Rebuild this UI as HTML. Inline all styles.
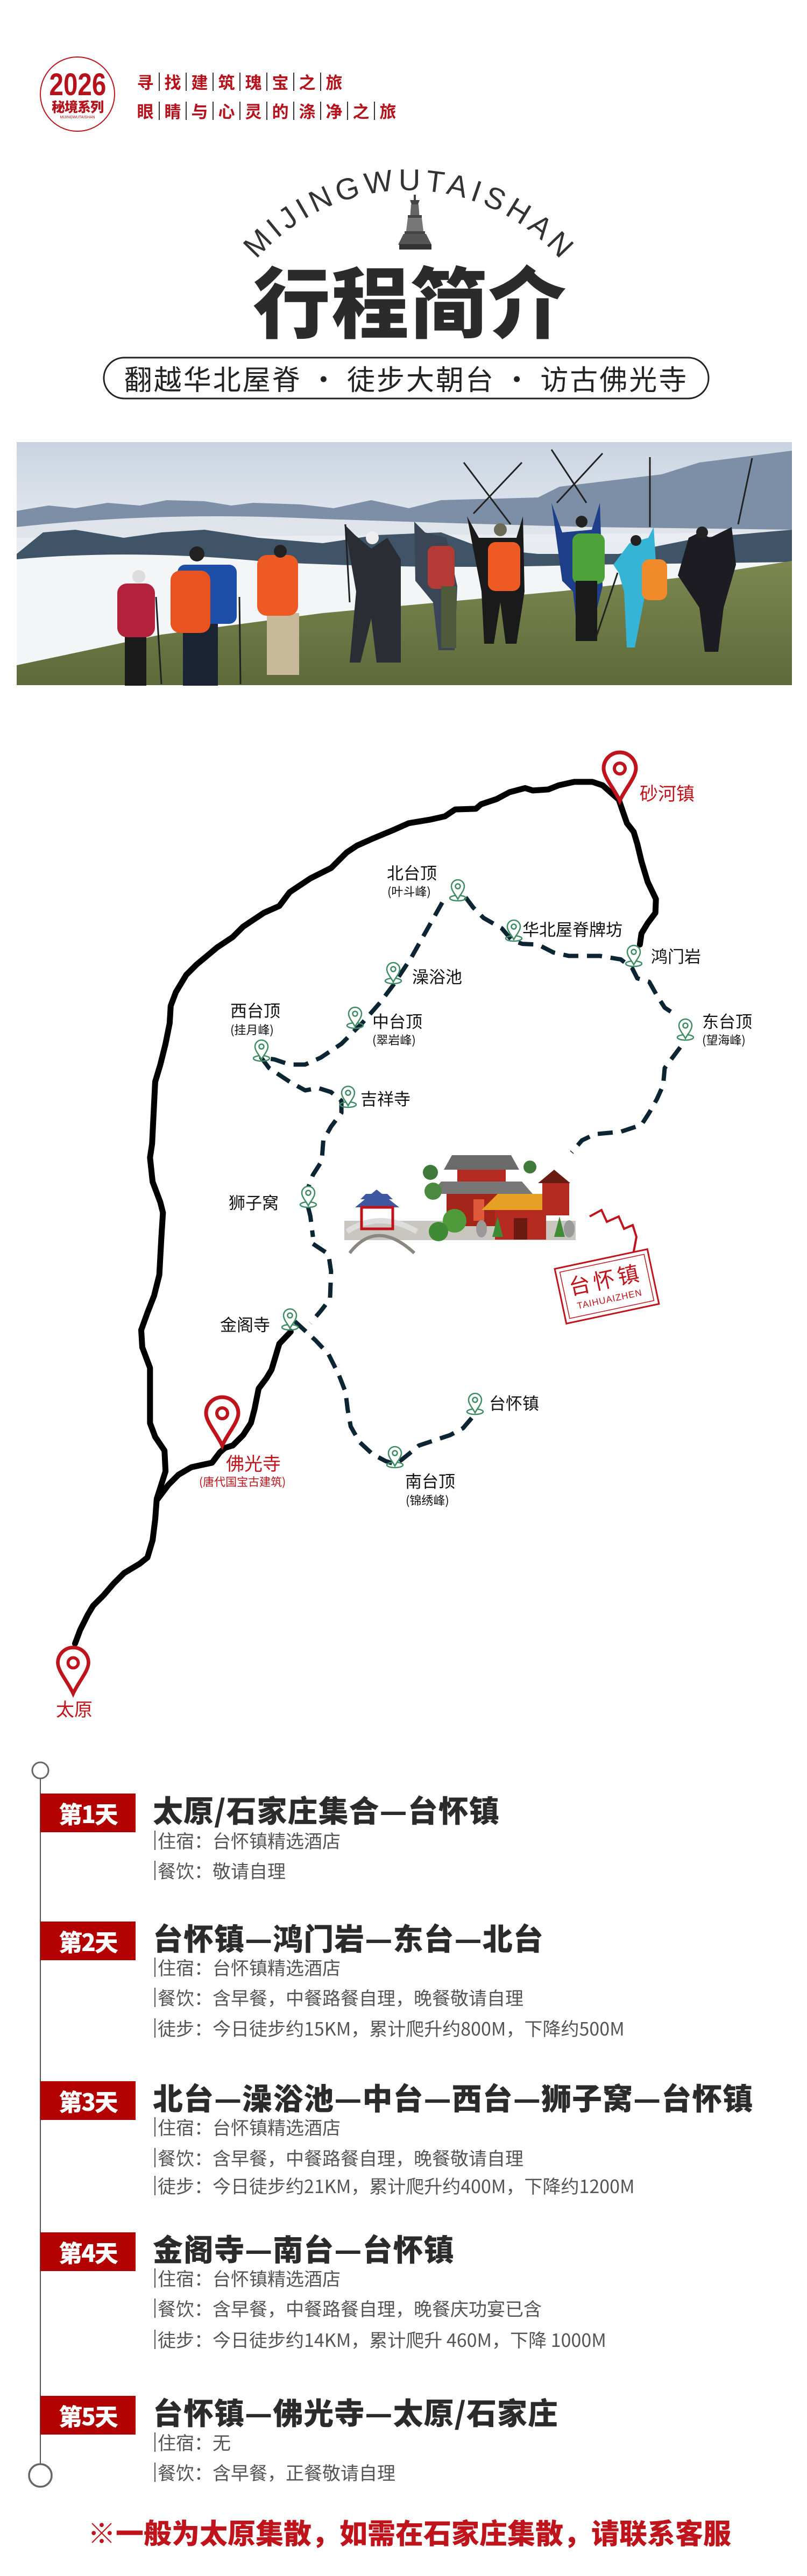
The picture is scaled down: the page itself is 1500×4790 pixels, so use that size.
<!DOCTYPE html>
<html><head><meta charset="utf-8">
<style>
*{margin:0;padding:0;box-sizing:border-box}
body{width:1500px;height:4790px;background:#fff;position:relative;overflow:hidden;font-family:"Liberation Sans","Noto Sans CJK SC",sans-serif}
.a{position:absolute;white-space:nowrap}
.cjk{font-family:"Noto Sans CJK SC","WenQuanYi Zen Hei",sans-serif}
.hl span{display:inline-block;width:50px;text-align:center;border-left:2px solid #333;line-height:34px}
.hl span:first-child{border-left:none}
.lbl{font-family:"Noto Sans CJK SC",sans-serif;color:#111;font-size:31px;line-height:1}
.sub{font-family:"Noto Sans CJK SC",sans-serif;color:#111;font-size:22px;line-height:1}
.badge{position:absolute;left:75px;width:177px;height:72px;background:#b30000;color:#fff;font-family:"Noto Sans CJK SC",sans-serif;font-weight:900;font-size:44px;line-height:72px;text-align:center;letter-spacing:-2px}
.tt{position:absolute;left:284px;font-family:"Noto Sans CJK SC",sans-serif;font-weight:900;font-size:56px;line-height:1;color:#2b2b2b;white-space:nowrap;letter-spacing:1px}
.ln{position:absolute;left:287px;font-family:"Noto Sans CJK SC",sans-serif;font-size:34px;line-height:36px;color:#555;white-space:nowrap;border-left:2px solid #555;padding-left:4px}
</style></head><body>

<svg class="a" style="left:0;top:0" width="1500" height="4790" viewBox="0 0 1500 4790">
<defs>
<g id="gm">
 <ellipse cx="0" cy="14" rx="15" ry="5" fill="none" stroke="#3d8c63" stroke-width="2.5"/>
 <path d="M0,16 C-4,8 -12,0 -12,-8 A12,12 0 1 1 12,-8 C12,0 4,8 0,16Z" fill="#fff" stroke="#3d8c63" stroke-width="2.5"/>
 <circle cx="0" cy="-8" r="4.5" fill="none" stroke="#3d8c63" stroke-width="2.5"/>
</g>
<g id="rp">
 <path d="M0,0 C-10,-22 -30,-44 -30,-60 A30,30 0 1 1 30,-60 C30,-44 10,-22 0,0Z" fill="#fff" stroke="#c0141c" stroke-width="7"/>
 <circle cx="0" cy="-60" r="10" fill="none" stroke="#c0141c" stroke-width="6"/>
</g>
<linearGradient id="sky" x1="0" y1="0" x2="0" y2="1">
 <stop offset="0" stop-color="#c9d3e0"/><stop offset="0.4" stop-color="#e6ebf1"/><stop offset="1" stop-color="#f2f4f6"/>
</linearGradient>
<linearGradient id="grass" x1="0" y1="0" x2="0" y2="1">
 <stop offset="0" stop-color="#7d8750"/><stop offset="1" stop-color="#5d6a3a"/>
</linearGradient>
</defs>

<!-- logo -->
<circle cx="144" cy="175" r="69" fill="none" stroke="#c0141c" stroke-width="2"/>

<!-- pagoda -->
<g fill="#444">
 <rect x="769" y="362" width="4" height="10"/>
 <path d="M762,372 h18 l-3,8 h-12z"/>
 <path d="M764,380 h14 l2,28 h-18z" fill="#666"/>
 <rect x="758" y="400" width="26" height="5"/>
 <path d="M758,405 h26 l4,32 h-34z" fill="#777"/>
 <rect x="752" y="430" width="38" height="5"/>
 <path d="M750,435 h42 l10,20 h-62z" fill="#555"/>
 <rect x="742" y="454" width="60" height="10" fill="#333"/>
</g>
<!-- arc text -->
<path id="arc" d="M488,470 A374,374 0 0 1 1030,470" fill="none"/>
<text font-family="Liberation Sans,sans-serif" font-size="56" fill="#333" font-weight="normal"><textPath href="#arc" startOffset="50%" text-anchor="middle" textLength="640" lengthAdjust="spacing">MIJINGWUTAISHAN</textPath></text>

<!-- pill -->
<rect x="193" y="665" width="1124" height="76" rx="38" fill="none" stroke="#222" stroke-width="3"/>

<!-- photo -->
<g>
 <rect x="31" y="822" width="1441" height="452" fill="url(#sky)"/>
 <path d="M31,950 L90,940 140,945 200,935 260,940 310,930 380,932 430,940 470,935 560,938 620,945 690,930 760,945 820,930 1000,925 1040,905 1230,882 1300,860 1472,838 L1472,990 L31,1000Z" fill="#7d8ea7"/>
 <path d="M31,980 Q300,950 600,965 Q900,975 1100,980 L1472,985 L1472,1010 L31,1010Z" fill="#e9edf2" opacity="0.9"/>
 <path d="M31,1030 L80,990 140,985 230,1000 300,990 380,985 480,1000 600,1010 700,995 820,990 900,1020 1000,1030 1150,1030 1300,1000 1472,985 L1472,1060 L31,1060Z" fill="#3f5466"/>
 <path d="M31,1040 Q250,1020 500,1045 Q800,1060 1100,1050 L1472,1045 L1472,1090 L1046,1099 L31,1235Z" fill="#f3f5f7"/>
 <path d="M31,1237 L300,1180 L600,1140 L1046,1099 L1300,1070 L1472,1043 L1472,1274 L31,1274Z" fill="url(#grass)"/>
 <!-- hikers -->
 <g>
  <rect x="232" y="1180" width="40" height="95" fill="#1a1a1a"/>
  <rect x="218" y="1085" width="70" height="100" rx="18" fill="#b3213a"/>
  <circle cx="258" cy="1072" r="12" fill="#ddd"/>
  <rect x="340" y="1150" width="65" height="125" fill="#1b2433"/>
  <rect x="330" y="1050" width="110" height="110" rx="14" fill="#1e4fa8"/>
  <rect x="317" y="1061" width="74" height="116" rx="18" fill="#e8531f"/>
  <circle cx="366" cy="1030" r="14" fill="#222"/>
  <rect x="496" y="1140" width="60" height="115" fill="#c7b89a"/>
  <rect x="478" y="1032" width="76" height="113" rx="18" fill="#ee5a23"/>
  <circle cx="521" cy="1025" r="12" fill="#222"/>
  <path d="M660,995 L690,1020 L720,1000 L745,1040 L745,1232 L700,1232 L690,1150 L670,1232 L650,1232 L662,1100 L640,975 Z" fill="#2a2d33"/>
  <circle cx="692" cy="1000" r="12" fill="#eee"/>
  <path d="M770,970 L790,990 L830,1000 L850,1090 L845,1209 L815,1209 L805,1120 L772,1080 Z" fill="#3a4656"/>
  <rect x="795" y="1015" width="50" height="80" rx="12" fill="#b33a35"/>
  <rect x="820" y="1090" width="28" height="115" fill="#4f5a3a"/>
  <path d="M868,960 L890,1000 L960,1000 L972,960 L975,1100 L960,1197 L940,1197 L930,1120 L918,1197 L900,1197 L895,1100 Z" fill="#1a1a1a"/>
  <rect x="907" y="1008" width="60" height="91" rx="14" fill="#ee5a23"/>
  <circle cx="930" cy="985" r="12" fill="#6b6b55"/>
  <path d="M1025,935 L1045,990 L1100,985 L1115,935 L1120,1090 L1095,1192 L1075,1192 L1065,1100 L1045,1080 Z" fill="#1d3f8a"/>
  <rect x="1064" y="992" width="60" height="94" rx="14" fill="#4fa23a"/>
  <rect x="1070" y="1080" width="40" height="112" fill="#1a1a1a"/>
  <circle cx="1081" cy="970" r="11" fill="#222"/>
  <path d="M1140,1050 L1170,1010 L1205,1000 L1215,980 L1220,1060 L1200,1100 L1180,1204 L1165,1204 L1160,1100 L1150,1065 Z" fill="#36b4d6"/>
  <rect x="1193" y="1040" width="47" height="76" rx="14" fill="#f08a2a"/>
  <circle cx="1182" cy="1005" r="10" fill="#222"/>
  <path d="M1260,1070 L1280,1000 L1300,990 L1320,1000 L1360,980 L1368,1050 L1345,1130 L1335,1212 L1310,1212 L1300,1130 Z" fill="#1c1c22"/>
  <circle cx="1305" cy="990" r="11" fill="#222"/>
 </g>
 <g stroke="#222" stroke-width="3">
  <line x1="862" y1="860" x2="949" y2="975"/><line x1="970" y1="860" x2="880" y2="955"/>
  <line x1="1025" y1="836" x2="1090" y2="935"/><line x1="1120" y1="843" x2="1035" y2="935"/>
  <line x1="1208" y1="850" x2="1208" y2="980"/><line x1="1398" y1="852" x2="1372" y2="975"/>
  <line x1="445" y1="1110" x2="447" y2="1272"/><line x1="290" y1="1110" x2="300" y2="1272"/>
  <line x1="642" y1="975" x2="650" y2="1120"/><line x1="1148" y1="1065" x2="1108" y2="1185"/>
 </g>
</g>

<!-- MAP solid line -->
<g transform="translate(0,1300) scale(0.9615,0.641)" fill="none" stroke="#000" stroke-width="11" stroke-linejoin="round" stroke-linecap="round">
 <path vector-effect="non-scaling-stroke" d="M1195,290 L1165,250 1145,240 1110,240 1080,250 1060,262 1030,265 1015,258 985,270 960,290 930,305 920,318 880,320 860,340 830,350 790,360 760,380 720,405 690,425 670,445 640,490 600,520 560,560 540,600 510,620 470,660 450,690 420,720 400,745 380,770 360,800 340,850 330,890 328,940 320,1000 310,1060 300,1110 298,1170 296,1230 294,1290 290,1330 295,1400 310,1460 315,1490 312,1560"/>
 <path vector-effect="non-scaling-stroke" d="M1197,295 L1205,330 1212,360 1225,385 1232,420 1240,470 1252,530 1268,580 1267,620 1252,650 1240,680 1237,712"/>
</g>
<g transform="translate(0,2300) scale(0.9615,0.641)" fill="none" stroke="#000" stroke-width="11" stroke-linejoin="round" stroke-linecap="round">
 <path vector-effect="non-scaling-stroke" d="M312,0 L308,110 298,170 285,220 273,270 275,320 290,380 290,460 290,540 300,580 318,620 320,680 303,760 300,820 295,880 285,930 270,948 240,975 220,1005 200,1040 180,1070 170,1095 155,1140 145,1180"/>
 <path vector-effect="non-scaling-stroke" d="M305,760 L325,720 345,690 370,668 410,655 425,625 435,612 450,605 470,575 485,540 492,500 500,440 515,410 525,385 540,310 562,275"/>
</g>
<!-- MAP dashed -->
<g fill="none" stroke="#0d2433" stroke-width="8" stroke-dasharray="28 16" stroke-linejoin="round">
 <g transform="translate(0,1300) scale(0.9615,0.641)">
  <path vector-effect="non-scaling-stroke" d="M855,590 L825,670 795,750 760,830 735,880 700,940 660,1000 620,1040 590,1060 560,1060 530,1045 505,1040 520,1070 560,1110 590,1135 615,1128 640,1140 660,1165 660,1200 640,1240 625,1280 622,1340 605,1380 590,1440 600,1500 605,1560"/>
  <path vector-effect="non-scaling-stroke" d="M900,575 L915,605 935,635 970,665 990,700 1010,710 1040,712 1070,735 1100,745 1160,745 1200,755 1222,780 1232,810 1255,820 1270,860 1285,895 1305,915"/>
  <path vector-effect="non-scaling-stroke" d="M1315,1010 L1300,1040 1285,1070 1282,1120 1270,1160 1255,1200 1240,1235 1200,1255 1150,1262 1125,1280 1105,1315"/>
 </g>
 <g transform="translate(0,2300) scale(0.9615,0.641)">
  <path vector-effect="non-scaling-stroke" d="M605,20 L635,50 640,100 638,180 620,215 600,250"/>
  <path vector-effect="non-scaling-stroke" d="M570,245 L610,300 635,340 655,400 668,450 672,500 678,550 695,595 720,630 745,650 765,660 790,630 810,605 840,590 870,575 895,555 915,520"/>
 </g>
</g>

<!-- green markers -->
<use href="#gm" x="851" y="1656"/>
<use href="#gm" x="955" y="1731"/>
<use href="#gm" x="1178" y="1778"/>
<use href="#gm" x="731" y="1810"/>
<use href="#gm" x="486" y="1954"/>
<use href="#gm" x="660" y="1893"/>
<use href="#gm" x="1274" y="1915"/>
<use href="#gm" x="647" y="2040"/>
<use href="#gm" x="573" y="2226"/>
<use href="#gm" x="539" y="2454"/>
<use href="#gm" x="883" y="2611"/>
<use href="#gm" x="734" y="2710"/>

<!-- red pins -->
<use href="#rp" x="1152" y="1489"/>
<use href="#rp" x="413" y="2688"/>
<g transform="translate(136,3149) scale(0.95)"><use href="#rp"/></g>

<!-- temple illustration -->
<g>
 <rect x="640" y="2270" width="430" height="36" fill="#c9c6c0"/>
 <path d="M650,2330 Q700,2265 770,2330" fill="none" stroke="#8a8680" stroke-width="6"/>
 <path d="M645,2290 Q705,2250 775,2290" fill="none" stroke="#ddd" stroke-width="10"/>
 <path d="M670,2230 L680,2220 L720,2220 L730,2230Z M660,2245 L700,2212 L742,2245Z" fill="#3d57a0"/>
 <rect x="672" y="2245" width="58" height="40" fill="none" stroke="#c0141c" stroke-width="5"/>
 <path d="M840,2148 L950,2148 L965,2175 L825,2175Z" fill="#6b6b6b"/>
 <rect x="850" y="2175" width="90" height="22" fill="#b52a20"/>
 <path d="M820,2197 L970,2197 L990,2220 L800,2220Z" fill="#777"/>
 <rect x="830" y="2220" width="140" height="60" fill="#a32418"/>
 <rect x="880" y="2230" width="20" height="40" fill="#e0583a"/>
 <path d="M925,2220 L1010,2220 L1040,2250 L895,2250Z" fill="#e6a025"/>
 <rect x="920" y="2250" width="95" height="55" fill="#b52a20"/>
 <rect x="955" y="2265" width="25" height="40" fill="#6b1a12"/>
 <path d="M1030,2175 L1060,2200 L1000,2200Z" fill="#6a1c14"/>
 <rect x="1008" y="2200" width="50" height="60" fill="#b52a20"/>
 <circle cx="800" cy="2180" r="14" fill="#3f7a3b"/><circle cx="805" cy="2215" r="16" fill="#4b8a3e"/>
 <circle cx="845" cy="2270" r="22" fill="#4f9a3a"/><circle cx="815" cy="2290" r="18" fill="#3f8a34"/>
 <circle cx="985" cy="2170" r="12" fill="#3f7a3b"/>
 <path d="M915,2300 L925,2262 L935,2300Z M1030,2300 L1040,2262 L1050,2300Z" fill="#3f8a34"/>
 <ellipse cx="895" cy="2285" rx="10" ry="16" fill="#999"/><ellipse cx="1058" cy="2285" rx="10" ry="16" fill="#999"/>
</g>
<!-- stamp -->
<path d="M1096,2262 L1118,2250 L1128,2272 L1150,2262 L1160,2285 L1176,2278 L1183,2300 L1175,2343" fill="none" stroke="#c0141c" stroke-width="4"/>
<g transform="translate(1128,2392) rotate(-12)">
 <rect x="-88" y="-52" width="176" height="104" fill="#fff" stroke="#c0141c" stroke-width="3"/>
 <rect x="-80" y="-44" width="160" height="88" fill="none" stroke="#c0141c" stroke-width="1.5"/>
 <text x="0" y="2" text-anchor="middle" font-family="Noto Sans CJK SC,sans-serif" font-size="40" fill="#c0141c" letter-spacing="6">台怀镇</text>
 <text x="0" y="30" text-anchor="middle" font-family="Liberation Sans,sans-serif" font-size="17" fill="#c0141c" letter-spacing="1">TAIHUAIZHEN</text>
</g>

<!-- timeline -->
<line x1="75" y1="3308" x2="75" y2="4581" stroke="#555" stroke-width="2"/>
<circle cx="75" cy="3292" r="15" fill="#fff" stroke="#666" stroke-width="3"/>
<circle cx="75" cy="4603" r="21" fill="#fff" stroke="#666" stroke-width="3.5"/>
</svg>

<!-- header -->
<div class="a" style="left:80px;top:130px;width:128px;text-align:center;color:#b5121b;font-weight:bold;font-size:58px;line-height:56px;font-family:'Liberation Sans',sans-serif;transform:scaleX(0.82)">2026</div>
<div class="a cjk" style="left:88px;top:184px;width:112px;text-align:center;color:#b5121b;font-weight:900;font-size:25px;line-height:28px;letter-spacing:-1px">秘境系列</div>
<div class="a" style="left:88px;top:215px;width:112px;text-align:center;color:#b5121b;font-size:7px">MIJINGWUTAISHAN</div>
<div class="a cjk hl" style="left:245px;top:129px;color:#b5121b;font-size:31px;font-weight:bold"><span>寻</span><span>找</span><span>建</span><span>筑</span><span>瑰</span><span>宝</span><span>之</span><span>旅</span></div>
<div class="a cjk hl" style="left:245px;top:183px;color:#b5121b;font-size:31px;font-weight:bold"><span>眼</span><span>睛</span><span>与</span><span>心</span><span>灵</span><span>的</span><span>涤</span><span>净</span><span>之</span><span>旅</span></div>

<div class="a cjk" style="left:462px;top:470px;width:600px;text-align:center;font-size:144px;line-height:170px;font-weight:900;color:#2b2b2b;letter-spacing:2px">行程简介</div>
<div class="a cjk" style="left:193px;top:665px;width:1124px;height:76px;text-align:center;font-size:52px;line-height:76px;color:#222;letter-spacing:3px">翻越华北屋脊 · 徒步大朝台 · 访古佛光寺</div>

<!-- map labels -->
<div class="a lbl" style="left:1189px;top:1457px;color:#c0141c;font-size:34px">砂河镇</div>
<div class="a lbl" style="left:719px;top:1606px">北台顶</div>
<div class="a sub" style="left:720px;top:1646px">(叶斗峰)</div>
<div class="a lbl" style="left:971px;top:1711px">华北屋脊牌坊</div>
<div class="a lbl" style="left:1210px;top:1761px">鸿门岩</div>
<div class="a lbl" style="left:766px;top:1799px">澡浴池</div>
<div class="a lbl" style="left:428px;top:1862px">西台顶</div>
<div class="a sub" style="left:428px;top:1903px">(挂月峰)</div>
<div class="a lbl" style="left:692px;top:1882px">中台顶</div>
<div class="a sub" style="left:692px;top:1922px">(翠岩峰)</div>
<div class="a lbl" style="left:1305px;top:1882px">东台顶</div>
<div class="a sub" style="left:1305px;top:1922px">(望海峰)</div>
<div class="a lbl" style="left:670px;top:2026px">吉祥寺</div>
<div class="a lbl" style="left:425px;top:2219px">狮子窝</div>
<div class="a lbl" style="left:409px;top:2446px">金阁寺</div>
<div class="a lbl" style="left:909px;top:2592px">台怀镇</div>
<div class="a lbl" style="left:753px;top:2737px">南台顶</div>
<div class="a sub" style="left:754px;top:2778px">(锦绣峰)</div>
<div class="a lbl" style="left:420px;top:2703px;color:#c0141c;font-size:34px">佛光寺</div>
<div class="a sub" style="left:370px;top:2745px;color:#c0141c;font-size:21px">(唐代国宝古建筑)</div>
<div class="a lbl" style="left:104px;top:3160px;color:#c0141c;font-size:34px">太原</div>

<!-- itinerary -->
<div class="badge" style="top:3335px">第1天</div>
<div class="tt" style="top:3337px">太原/石家庄集合—台怀镇</div>
<div class="ln" style="top:3404px">住宿：台怀镇精选酒店</div>
<div class="ln" style="top:3460px">餐饮：敬请自理</div>

<div class="badge" style="top:3573px">第2天</div>
<div class="tt" style="top:3575px">台怀镇—鸿门岩—东台—北台</div>
<div class="ln" style="top:3640px">住宿：台怀镇精选酒店</div>
<div class="ln" style="top:3696px">餐饮：含早餐，中餐路餐自理，晚餐敬请自理</div>
<div class="ln" style="top:3753px">徒步：今日徒步约15KM，累计爬升约800M，下降约500M</div>

<div class="badge" style="top:3870px">第3天</div>
<div class="tt" style="top:3872px">北台—澡浴池—中台—西台—狮子窝—台怀镇</div>
<div class="ln" style="top:3937px">住宿：台怀镇精选酒店</div>
<div class="ln" style="top:3994px">餐饮：含早餐，中餐路餐自理，晚餐敬请自理</div>
<div class="ln" style="top:4046px">徒步：今日徒步约21KM，累计爬升约400M，下降约1200M</div>

<div class="badge" style="top:4151px">第4天</div>
<div class="tt" style="top:4153px">金阁寺—南台—台怀镇</div>
<div class="ln" style="top:4218px">住宿：台怀镇精选酒店</div>
<div class="ln" style="top:4274px">餐饮：含早餐，中餐路餐自理，晚餐庆功宴已含</div>
<div class="ln" style="top:4332px">徒步：今日徒步约14KM，累计爬升 460M，下降 1000M</div>

<div class="badge" style="top:4455px">第5天</div>
<div class="tt" style="top:4457px">台怀镇—佛光寺—太原/石家庄</div>
<div class="ln" style="top:4523px">住宿：无</div>
<div class="ln" style="top:4579px">餐饮：含早餐，正餐敬请自理</div>

<div class="a cjk" style="left:0;top:4678px;width:1522px;text-align:center;color:#c0141c;font-size:52px;line-height:60px;font-weight:900">※一般为太原集散，如需在石家庄集散，请联系客服</div>
</body></html>
